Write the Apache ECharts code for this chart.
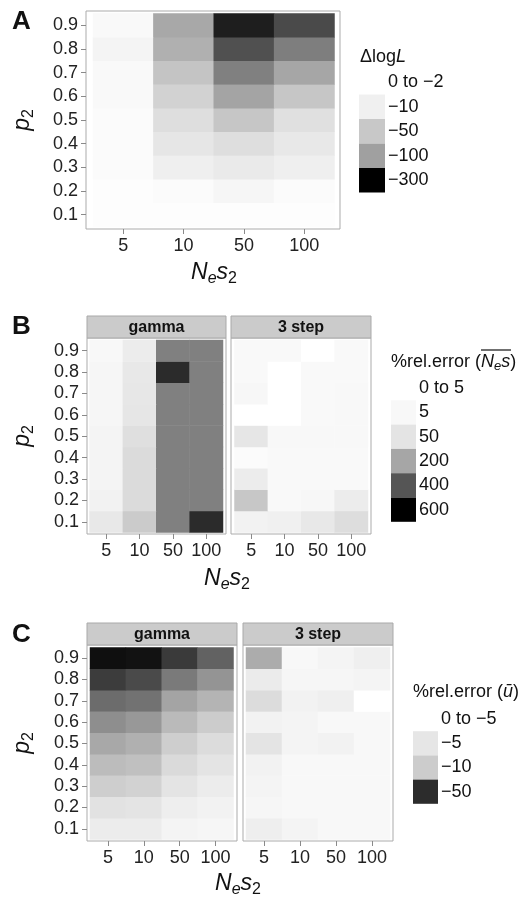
<!DOCTYPE html>
<html>
<head>
<meta charset="utf-8">
<script src="https://cdn.jsdelivr.net/npm/echarts@6/dist/echarts.min.js"></script>
<style>
  html, body { margin: 0; padding: 0; background: #fff; }
  #main { width: 524px; height: 899px; }
</style>
</head>
<body>
<div id="main"></div>
<script>
// categories
const xCats = ['5', '10', '50', '100'];                       // N_e s_2
const yCats = ['0.1', '0.2', '0.3', '0.4', '0.5', '0.6', '0.7', '0.8', '0.9']; // p_2
const facets = ['gamma', '3 step'];

// rows: p2 = 0.1 ... 0.9, columns: Nes2 = 5, 10, 50, 100
// A: delta log L
const deltaLogL = [
  [-3, -3, -3, -3],
  [-3, -4, -7, -4],
  [-4, -11, -16, -11],
  [-4, -20, -28, -18],
  [-4, -28, -52, -26],
  [-5, -40, -95, -52],
  [-5, -55, -140, -92],
  [-8, -80, -200, -142],
  [-5, -90, -262, -207]
];
// B: % relative error of mean Nes
const nesGamma = [
  [40, 110, 295, 500],
  [18, 72, 295, 295],
  [15, 72, 295, 295],
  [14, 72, 295, 295],
  [13, 62, 295, 295],
  [10, 45, 295, 295],
  [10, 44, 295, 295],
  [10, 42, 500, 295],
  [6, 32, 295, 295]
];
const nes3Step = [
  [18, 23, 41, 68],
  [120, 4, 7, 32],
  [32, 4, 4, 4],
  [3, 4, 4, 4],
  [45, 5, 5, 5],
  [0, 0, 4, 5],
  [7, 0, 4, 5],
  [4, 0, 4, 4],
  [4, 4, 0, 4]
];
// C: % relative error of mean u
const uGamma = [
  [-3.8, -3.8, -2.2, -1.8],
  [-5.8, -5.4, -3.4, -2.6],
  [-9.6, -8.8, -5.4, -3.8],
  [-14, -13, -7.3, -5.4],
  [-19, -17, -9.6, -7],
  [-25.5, -23, -14.5, -10],
  [-34, -32.5, -20, -16],
  [-46, -42.5, -30.5, -24],
  [-60, -59, -46.5, -36.5]
];
const u3Step = [
  [-3.4, -2.2, -1.4, -1.4],
  [-1.8, -1.4, -1.4, -1.4],
  [-2.2, -1.4, -1.4, -1.4],
  [-2.6, -1.4, -1.4, -1.4],
  [-5.4, -2.2, -2.6, -1.4],
  [-2.6, -2.2, -1.4, -1.4],
  [-6.9, -2.6, -3.2, 0],
  [-4, -1.8, -1.8, -2.2],
  [-18, -1.4, -2.2, -3.2]
];

// legends (break values, labels, greys)
const breaksA = [-2, -10, -50, -100, -300];
const labelsA = ['0 to \u22122', '\u221210', '\u221250', '\u2212100', '\u2212300'];
const greysA = ['#ffffff', '#f0f0f0', '#c8c8c8', '#a0a0a0', '#000000'];

const breaksB = [0, 5, 50, 200, 400, 600];
const labelsB = ['0 to 5', '5', '50', '200', '400', '600'];
const greysB = ['#ffffff', '#f8f8f8', '#e4e4e4', '#a6a6a6', '#555555', '#000000'];

const breaksC = [0, -5, -10, -50, -65];
const labelsC = ['0 to \u22125', '\u22125', '\u221210', '\u221250'];
const greysC = ['#ffffff', '#e6e6e6', '#cccccc', '#2c2c2c', '#000000'];

const FONT = '"Liberation Sans", Arial, Helvetica, sans-serif';

// position of a value along the legend breaks, used by the colour scale
function level(v, breaks) {
  const dir = breaks[breaks.length - 1] < breaks[0] ? -1 : 1;
  const t = v * dir;
  if (t <= breaks[0] * dir) return 0;
  for (let i = 1; i < breaks.length; i++) {
    const a = breaks[i - 1] * dir, b = breaks[i] * dir;
    if (t <= b) return i - 1 + (t - a) / (b - a);
  }
  return breaks.length - 1;
}

function cells(matrix, breaks) {
  const out = [];
  matrix.forEach((row, yi) => row.forEach((v, xi) => out.push([xi, yi, v, level(v, breaks)])));
  return out;
}

function grid(left, top, width, height, frame) {
  return frame
    ? { left, top, width, height, show: true, backgroundColor: '#fff', borderColor: '#ababab', borderWidth: 1, outerBoundsMode: 'none' }
    : { left, top, width, height, show: false, outerBoundsMode: 'none' };
}

function xAx(gridIndex, offset) {
  return {
    type: 'category', gridIndex, data: xCats, offset,
    axisLine: { show: false },
    axisTick: { show: true, alignWithLabel: true, length: 5, interval: 0, lineStyle: { color: '#8a8a8a' } },
    axisLabel: { interval: 0, fontSize: 18, color: '#222', fontFamily: FONT, margin: 8 },
    splitLine: { show: false }
  };
}

function yAx(gridIndex, offset, show) {
  return {
    type: 'category', gridIndex, data: yCats, offset,
    axisLine: { show: false },
    axisTick: { show, alignWithLabel: true, length: 5, interval: 0, lineStyle: { color: '#8a8a8a' } },
    axisLabel: { show, interval: 0, fontSize: 18, color: '#222', fontFamily: FONT, margin: 8 },
    splitLine: { show: false }
  };
}

function heat(i, data) {
  return {
    type: 'heatmap', xAxisIndex: i, yAxisIndex: i, data,
    itemStyle: { borderWidth: 0 },
    emphasis: { disabled: true }
  };
}

function legend(left, top, w, h, labels, greys) {
  return {
    type: 'piecewise', seriesIndex: [], orient: 'vertical', inverse: true, align: 'left',
    left, top, itemWidth: w, itemHeight: h, itemGap: 0, textGap: 3, itemSymbol: 'rect',
    selectedMode: false, hoverLink: false, padding: 0,
    pieces: labels.map((label, i) => ({ value: i, label, color: greys[i] })),
    textStyle: { fontSize: 18, color: '#111', fontFamily: FONT }
  };
}

const richMath = {
  i: { fontSize: 23, fontStyle: 'italic', fontFamily: FONT, lineHeight: 27, fill: '#111' },
  s: { fontSize: 16, fontStyle: 'italic', fontFamily: FONT, lineHeight: 16, verticalAlign: 'bottom', fill: '#111' },
  t: { fontSize: 16, fontFamily: FONT, lineHeight: 16, verticalAlign: 'bottom', fill: '#111' }
};

function text(x, y, str, extra) {
  return Object.assign({
    type: 'text', x, y, z: 10,
    style: Object.assign({
      text: str, fontFamily: FONT, fontSize: 18, fill: '#111',
      align: 'left', verticalAlign: 'middle', textAlign: 'left', textVerticalAlign: 'middle'
    }, extra && extra.style)
  }, extra && extra.el);
}

function xTitle(x, y) {
  return text(x, y, '{i|N}{s|e}{i|s}{t|2}', { style: { rich: richMath, align: 'center', textAlign: 'center' } });
}
function yTitle(x, y) {
  return text(x, y, '{i|p}{t|2}', { style: { rich: richMath, align: 'center', textAlign: 'center' }, el: { rotation: Math.PI / 2 } });
}
function strip(x, y, w, label) {
  return {
    type: 'group', children: [
      { type: 'rect', shape: { x, y, width: w, height: 22 }, style: { fill: '#cbcbcb', stroke: '#a9a9a9', lineWidth: 1 } },
      text(x + w / 2, y + 11.5, label, { style: { fontSize: 16, fontWeight: 'bold', align: 'center', textAlign: 'center' } })
    ]
  };
}

const chart = echarts.init(document.getElementById('main'), null, { renderer: 'canvas' });

chart.setOption({
  animation: false,
  grid: [
    grid(93, 13.5, 241.5, 213, false),
    grid(89.5, 340, 133.5, 192.5, false),
    grid(234.5, 340, 133.5, 192.5, false),
    grid(90, 647.5, 143.5, 192, false),
    grid(246, 647.5, 144, 192, false),
    grid(86, 11, 254, 218, true),
    grid(87, 338, 139, 196, true),
    grid(231, 338, 140, 196, true),
    grid(87, 645, 150, 196, true),
    grid(243, 645, 150, 196, true)
  ],
  xAxis: [xAx(0, 2.5), xAx(1, 1.5), xAx(2, 1.5), xAx(3, 1.5), xAx(4, 1.5)],
  yAxis: [yAx(0, 7, true), yAx(1, 2.5, true), yAx(2, 3.5, false), yAx(3, 3, true), yAx(4, 3, false)],
  visualMap: [
    { type: 'continuous', show: false, seriesIndex: [0], dimension: 3, min: 0, max: breaksA.length - 1, inRange: { color: greysA } },
    { type: 'continuous', show: false, seriesIndex: [1, 2], dimension: 3, min: 0, max: breaksB.length - 1, inRange: { color: greysB } },
    { type: 'continuous', show: false, seriesIndex: [3, 4], dimension: 3, min: 0, max: breaksC.length - 1, inRange: { color: greysC } },
    legend(359, 70, 26, 24.5, labelsA, greysA),
    legend(391, 376, 25, 24.3, labelsB, greysB),
    legend(413, 707, 25, 24.2, labelsC, greysC.slice(0, labelsC.length))
  ],
  series: [
    heat(0, cells(deltaLogL, breaksA)),
    heat(1, cells(nesGamma, breaksB)),
    heat(2, cells(nes3Step, breaksB)),
    heat(3, cells(uGamma, breaksC)),
    heat(4, cells(u3Step, breaksC))
  ],
  graphic: [
    text(12, 22, 'A', { style: { fontSize: 26, fontWeight: 'bold' } }),
    text(12, 327, 'B', { style: { fontSize: 26, fontWeight: 'bold' } }),
    text(12, 635, 'C', { style: { fontSize: 26, fontWeight: 'bold' } }),
    yTitle(23, 120), yTitle(23, 436), yTitle(23, 743),
    xTitle(214, 273), xTitle(227, 579), xTitle(238, 884),
    strip(87, 316, 139, facets[0]), strip(231, 316, 140, facets[1]),
    strip(87, 623, 150, facets[0]), strip(243, 623, 150, facets[1]),
    text(360, 57, '{n|\u0394log}{i|L}', { style: { rich: {
      n: { fontSize: 18, fontFamily: FONT, fill: '#111' },
      i: { fontSize: 18, fontStyle: 'italic', fontFamily: FONT, fill: '#111' } } } }),
    text(391, 362, '{n|%rel.error (}{i|N}{s|e}{i|s}{n|)}', { style: { rich: {
      n: { fontSize: 18, fontFamily: FONT, lineHeight: 22, fill: '#111' },
      i: { fontSize: 18, fontStyle: 'italic', fontFamily: FONT, lineHeight: 22, fill: '#111' },
      s: { fontSize: 13, fontStyle: 'italic', fontFamily: FONT, lineHeight: 13, verticalAlign: 'bottom', fill: '#111' } } } }),
    { type: 'line', shape: { x1: 481, y1: 350, x2: 511, y2: 350 }, style: { stroke: '#111', lineWidth: 1.2 } },
    text(413, 692, '{n|%rel.error (}{i|\u016b}{n|)}', { style: { rich: {
      n: { fontSize: 18, fontFamily: FONT, fill: '#111' },
      i: { fontSize: 18, fontStyle: 'italic', fontFamily: FONT, fill: '#111' } } } })
  ]
});
</script>
</body>
</html>
